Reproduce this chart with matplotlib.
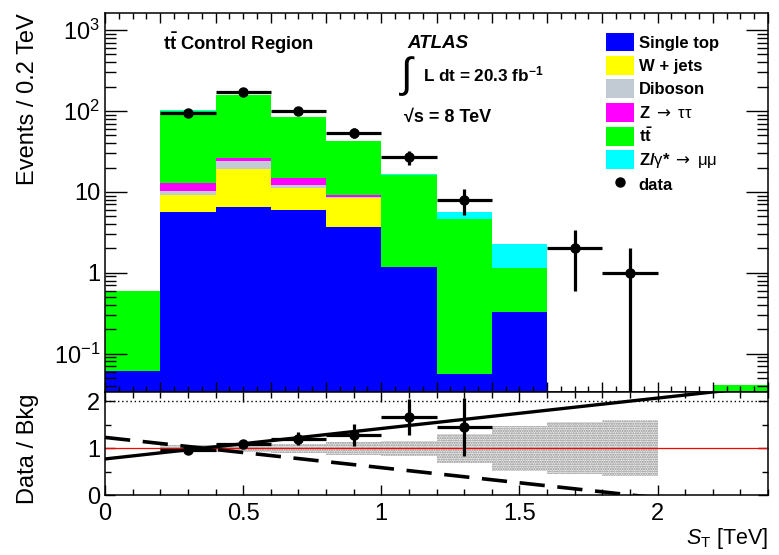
import numpy as np
import matplotlib
matplotlib.use('Agg')
import matplotlib.pyplot as plt
from matplotlib.patches import Patch
from matplotlib.lines import Line2D
from matplotlib.ticker import MultipleLocator, FixedLocator, FixedFormatter, LogLocator, NullFormatter, FormatStrFormatter

plt.rcParams['font.family'] = ['Liberation Sans', 'DejaVu Sans']
plt.rcParams['mathtext.fontset'] = 'custom'
plt.rcParams['mathtext.rm'] = 'Liberation Sans'
plt.rcParams['mathtext.it'] = 'Liberation Sans:italic'
plt.rcParams['mathtext.bf'] = 'Liberation Sans:bold'
plt.rcParams['mathtext.sf'] = 'DejaVu Sans'

# S_T bins [TeV]
bin_edges = [0.0, 0.2, 0.4, 0.6, 0.8, 1.0, 1.2, 1.4, 1.6, 1.8, 2.0, 2.2, 2.4]

# stacked backgrounds, events per bin (bottom -> top)
single_top = [0.060, 5.58, 6.49, 6.0, 3.67, 1.17, 0.055, 0.33, 0, 0, 0, 0]
w_jets = [0, 3.55, 12.8, 5.2, 4.8, 0, 0, 0, 0, 0, 0, 0]
diboson = [0, 1.17, 4.7, 1.0, 0.2, 0, 0, 0, 0, 0, 0, 0]
z_tautau = [0, 2.6, 2.0, 2.7, 0.4, 0, 0, 0, 0, 0, 0, 0]
ttbar = [0.54, 86.8, 131, 69, 33.5, 14.9, 4.5, 0.82, 0, 0, 0, 0.040]
z_mumu = [0, 2.3, 1.0, 0.5, 0.3, 0.5, 1.06, 1.09, 0, 0, 0, 0]

bkg_names = ['Single top', 'W + jets', 'Diboson',
             r'Z $\mathsf{\rightarrow}$ $\mathrm{\tau\tau}$',
             r'$\mathbf{t\bar{t}}$',
             r'Z/$\mathrm{\gamma}$* $\mathsf{\rightarrow}$ $\mathrm{\mu\mu}$']
bkg_colors = ['#0000ff', '#ffff00', '#c2cbd3', '#ff00ff', '#00ff00', '#00ffff']

# data
data_x = [0.3, 0.5, 0.7, 0.9, 1.1, 1.3, 1.7, 1.9]
data_y = [95, 170, 99, 54, 27, 8, 2, 1]
data_err = [9.7, 13.0, 9.9, 7.3, 5.2, 2.8, 1.4, 1.0]

# ratio panel
ratio_x = [0.3, 0.5, 0.7, 0.9, 1.1, 1.3]
ratio_y = [0.96, 1.09, 1.20, 1.28, 1.67, 1.46]
ratio_err = [0.04, 0.09, 0.14, 0.24, 0.38, 0.62]
band_unc = [0, 0.06, 0.08, 0.10, 0.14, 0.16, 0.31, 0.48, 0.56, 0.60, 0, 0]
fit_x = [0.0, 2.4]
fit_up = [0.77, 2.33]
fit_down = [1.23, -0.32]

W, H = 779, 555
fig = plt.figure(figsize=(W / 100, H / 100), dpi=100)
ax1 = fig.add_axes([105 / W, 1 - 392 / H, 663 / W, 379 / H])
ax2 = fig.add_axes([105 / W, 1 - 495 / H, 663 / W, 103 / H])

edges = np.array(bin_edges)
lefts = edges[:-1]
widths = np.diff(edges)

bottom = np.full(len(lefts), 1e-3)
for vals, col in zip([single_top, w_jets, diboson, z_tautau, ttbar, z_mumu], bkg_colors):
    v = np.array(vals, dtype=float)
    ax1.bar(lefts, v, width=widths, bottom=bottom, align='edge', color=col, lw=0)
    bottom = bottom + v

ax1.errorbar(data_x, data_y, yerr=data_err, xerr=0.1, fmt='o', color='k', ms=6.5,
             elinewidth=2.3, capsize=0, zorder=5)

ax1.set_yscale('log')
ax1.set_xlim(0, 2.4)
ax1.set_ylim(0.0335, 1630)
ax1.yaxis.set_major_locator(FixedLocator([0.1, 1, 10, 100, 1000]))
ax1.yaxis.set_major_formatter(FixedFormatter(['10$^{-1}$', '1', '10', '10$^{2}$', '10$^{3}$']))
ax1.yaxis.set_minor_locator(LogLocator(base=10, subs=np.arange(2, 10)))
ax1.yaxis.set_minor_formatter(NullFormatter())
ax1.xaxis.set_major_locator(MultipleLocator(0.2))
ax1.xaxis.set_minor_locator(MultipleLocator(0.05))
ax1.tick_params(which='both', direction='in', top=True, right=True, labelbottom=False,
                labelsize=17, width=1)
ax1.tick_params(axis='y', which='major', length=16)
ax1.tick_params(axis='y', which='minor', length=8)
ax1.tick_params(axis='x', which='major', length=7)
ax1.tick_params(axis='x', which='minor', length=4)
ax1.set_ylabel('Events / 0.2 TeV', fontsize=17, loc='top')
ax1.yaxis.set_label_coords(-0.1, 1.0)

handles = [Patch(facecolor=c, edgecolor='none') for c in bkg_colors]
handles.append(Line2D([], [], marker='o', color='k', ls='none', ms=6.5))
leg = ax1.legend(handles, bkg_names + ['data'], loc='upper left',
                 bbox_to_anchor=(0.756, 0.948), frameon=False, borderpad=0,
                 borderaxespad=0, handlelength=1.65, handleheight=1.35,
                 labelspacing=0.28, handletextpad=0.3,
                 prop={'weight': 'bold', 'size': 12})

fig.text(163 / W, 1 - 43 / H, r'$\mathbf{t\bar{t}}$ Control Region', fontsize=13.2,
         weight='bold', va='center')
fig.text(407 / W, 1 - 43 / H, 'ATLAS', fontsize=13.5, weight='bold', style='italic', va='center')
fig.text(399 / W, 1 - 76 / H, r'$\int$', fontsize=30, va='center')
fig.text(423 / W, 1 - 74 / H, r'L dt = 20.3 fb$^{\mathbf{-1}}$', fontsize=12.3,
         weight='bold', va='center')
fig.text(404 / W, 1 - 117 / H, '√s = 8 TeV', fontsize=13, weight='bold', va='center')

# ratio panel
unc = np.array(band_unc)
ax2.bar(lefts, 2 * unc, width=widths, bottom=1 - unc, align='edge', color='#ececec',
        edgecolor='#8c8c8c', hatch='.......', lw=0)
ax2.axhline(1, color='#ff0000', lw=0.9)
ax2.axhline(2, color='k', lw=1, ls=(0, (1, 2)))
ax2.plot(fit_x, fit_up, color='k', lw=2.4)
ax2.plot(fit_x, fit_down, color='k', lw=2.6, dashes=(7, 3.5))
ax2.errorbar(ratio_x, ratio_y, yerr=ratio_err, xerr=0.1, fmt='o', color='k', ms=6.5,
             elinewidth=2.3, capsize=0, zorder=5)
ax2.set_xlim(0, 2.4)
ax2.set_ylim(0, 2.2)
ax2.xaxis.set_major_locator(MultipleLocator(0.5))
ax2.xaxis.set_minor_locator(MultipleLocator(0.1))
ax2.yaxis.set_major_locator(MultipleLocator(1))
ax2.yaxis.set_minor_locator(MultipleLocator(0.5))
ax2.xaxis.set_major_formatter(FormatStrFormatter('%g'))
ax2.yaxis.set_major_formatter(FormatStrFormatter('%g'))
ax2.tick_params(which='both', direction='in', top=True, right=True, labelsize=17, width=1)
ax2.tick_params(which='major', length=7)
ax2.tick_params(which='minor', length=4)
ax2.tick_params(axis='x', pad=6)
ax2.set_ylabel('Data / Bkg', fontsize=17)
ax2.yaxis.set_label_coords(-0.1, 0.45)
ax2.set_xlabel(r'$S_{\mathrm{T}}$ [TeV]', fontsize=15.5, loc='right')
ax2.xaxis.set_label_coords(1.0, -0.3)

for ax in (ax1, ax2):
    for s in ax.spines.values():
        s.set_linewidth(1.1)

fig.savefig('out.png', dpi=100)
